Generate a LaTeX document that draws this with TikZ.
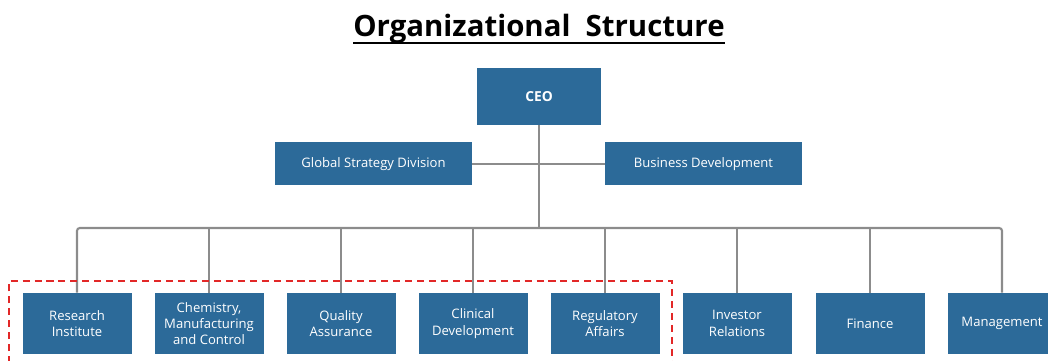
\documentclass[tikz,border=0pt]{standalone}
\usepackage{fontspec}
\setmainfont{Open Sans}
\usetikzlibrary{positioning}

\definecolor{boxblue}{RGB}{44,106,153}
\definecolor{linegray}{RGB}{140,140,140}
\definecolor{markred}{RGB}{226,40,40}

\tikzset{
    unit/.style={draw=none, fill=boxblue, text=white, align=center,
        inner sep=0pt, font=\fontsize{9.3}{11.6}\selectfont},
    top/.style={unit, minimum width=124\pxu, minimum height=57\pxu, font=\fontsize{9.8}{11.6}\selectfont\bfseries},
    staff/.style={unit, minimum width=197\pxu, minimum height=43\pxu},
    dept/.style={unit, minimum width=109\pxu, minimum height=61\pxu},
    link/.style={draw=linegray, line width=1.5pt}
}
\newcommand{\pxu}{*0.025cm}

\begin{document}
\begin{tikzpicture}[x=0.025cm, y=-0.025cm]
    \useasboundingbox (0,0) rectangle (1048,361);
    \clip (0,0) rectangle (1048,361);

    % Titre
    \node[anchor=base, inner sep=0pt, font=\fontsize{20.9}{25}\selectfont\bfseries] (title) at (539,37)
        {Organizational\ \ Structure};
    \draw[line width=1.5pt] ([yshift=-4.3pt]title.base west) -- ([yshift=-4.3pt]title.base east);

    % Direction
    \node[top] (ceo) at (539,96.5) {CEO};
    \node[staff] (gsd) at (373.5,164) {Global Strategy Division};
    \node[staff] (bdev) at (703.5,164) {Business Development};

    % Departements
    \foreach \i/\x/\txt in {1/77/{Research\\Institute},
                            2/209/{Chemistry,\\Manufacturing\\and Control},
                            3/341/{Quality\\Assurance},
                            4/473/{Clinical\\Development},
                            5/605/{Regulatory\\Affairs},
                            6/737/{Investor\\Relations},
                            7/870/{Finance},
                            8/1002/{Management}}
        \node[dept] (d\i) at (\x,323.5) {\txt};

    % Liaisons
    \coordinate (bus) at (539,228);
    \draw[link] (ceo.south) -- (bus);
    \draw[link] (gsd.east) -- (bdev.west);
    \draw[link, rounded corners=2pt] (d1.north) |- (bus) -| (d8.north);
    \foreach \i in {2,...,7}
        \draw[link] (d\i.north) -- (d\i.north |- bus);

    % Zone en pointilles
    \draw[markred, line width=1.4pt, dash pattern=on 5pt off 3.5pt]
        (9,375) -- (9,281) -- (672,281) -- (672,375);
\end{tikzpicture}
\end{document}
